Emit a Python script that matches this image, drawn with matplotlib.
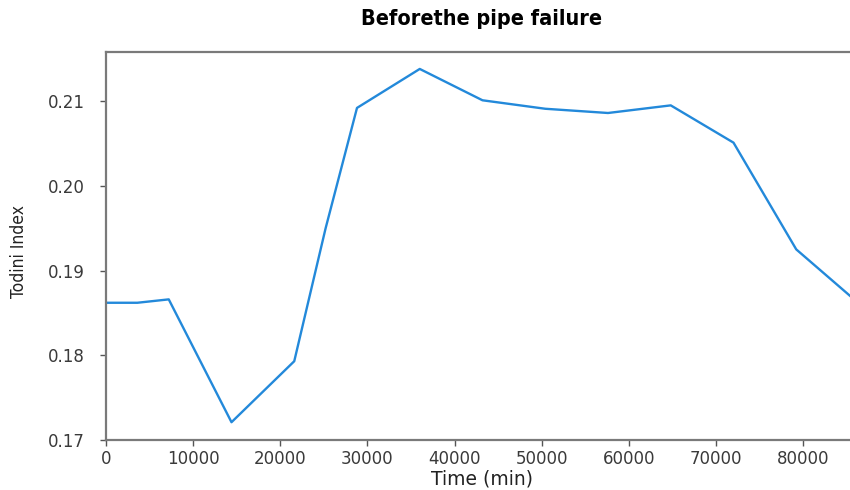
import numpy as np
import matplotlib
matplotlib.use("Agg")
import matplotlib.pyplot as plt
from matplotlib import font_manager

# hourly samples over one day
time_min = [0, 3600, 7200, 14400, 21600, 25200, 28800, 36000, 43200,
            50400, 57600, 64800, 72000, 79200, 86400]
todini = [0.1862, 0.1862, 0.1866, 0.1721, 0.1793, 0.1950, 0.2092, 0.2138,
          0.2101, 0.2091, 0.2086, 0.2095, 0.2051, 0.1925, 0.1861]
xticks = [0, 10000, 20000, 30000, 40000, 50000, 60000, 70000, 80000]
yticks = [0.17, 0.18, 0.19, 0.20, 0.21]

names = sorted({f.name for f in font_manager.fontManager.ttflist})
narrow = "DejaVu Sans"
for cand in ["Liberation Sans Narrow", "DejaVu Sans Condensed"]:
    if cand in names:
        narrow = cand
        break

fig = plt.figure(figsize=(8.5, 4.9), dpi=100)
# axes runs a little past the right edge, like the cropped original
ax = fig.add_axes([106 / 850, 50 / 490, 753 / 850, 388 / 490])

ax.plot(time_min, todini, color="#2389da", lw=1.7)

ax.set_xlim(0, 86400)
ax.set_ylim(0.17, 0.2158)
ax.set_xticks(xticks)
ax.set_yticks(yticks)
ax.set_yticklabels(["%.2f" % v for v in yticks])

for s in ax.spines.values():
    s.set_color("#7a7a7a")
    s.set_linewidth(1.6)
ax.tick_params(colors="#3a3a3a", labelsize=12, length=4, width=1)
ax.tick_params(axis="both", color="#555555")
ax.tick_params(axis="y", pad=11)

ax.set_xlabel("Time (min)", fontsize=13.5, color="#222222", labelpad=1)
ax.set_ylabel("Todini Index", fontsize=12.5, color="#222222",
              family=narrow, fontstretch="condensed")
ax.yaxis.set_label_coords(-78 / 753, 0.485)
fig.text(482 / 850, 1 - 19 / 490, "Beforethe pipe failure", ha="center",
         va="center", fontsize=15.5, fontweight="bold",
         family=narrow, fontstretch="condensed")

fig.savefig("out.png", dpi=100)
